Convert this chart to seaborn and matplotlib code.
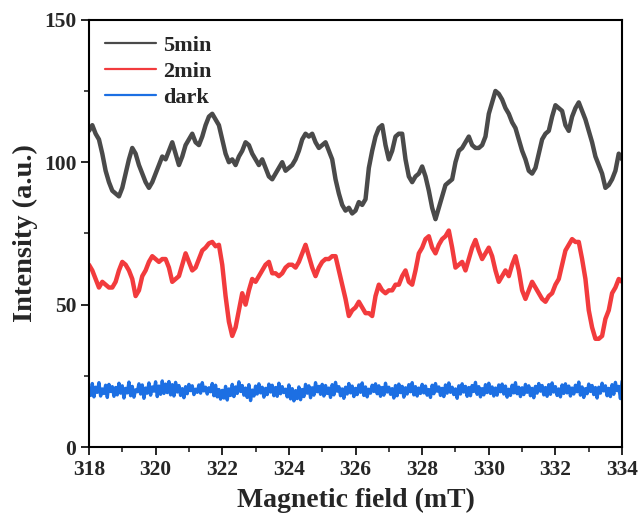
import numpy as np
import pandas as pd
import matplotlib
matplotlib.use("Agg")
import matplotlib.pyplot as plt
from matplotlib.ticker import MultipleLocator
import seaborn as sns

# EPR intensity traces, sampled every 0.1 mT from 318 to 334 mT
intensity_5min = [
    111, 113, 110, 108, 103, 97, 93, 90, 89, 88,
    91, 96, 101, 105, 103, 99, 96, 93, 91, 93,
    96, 99, 102, 101, 104, 107, 103, 99, 102, 106,
    108, 110, 107, 106, 109, 113, 116, 117, 115, 113,
    108, 103, 100, 101, 99, 102, 104, 107, 106, 103,
    101, 99, 101, 98, 95, 94, 96, 98, 100, 97,
    98, 99, 101, 104, 108, 110, 109, 110, 107, 105,
    106, 107, 104, 101, 94, 89, 85, 83, 84, 82,
    83, 86, 85, 87, 98, 104, 109, 112, 113, 106,
    101, 104, 109, 110, 110, 101, 95, 93, 95, 96,
    98.5, 95, 90, 84, 80, 84, 88, 92, 93, 94,
    100, 104, 105, 107, 109, 106, 105, 105, 106, 109,
    117, 121, 125, 124, 122, 119, 117, 114, 112, 108,
    104, 101, 97, 96, 98, 103, 108, 110, 111, 116,
    120, 119, 118, 113, 111, 116, 119, 121, 118, 115,
    111, 107, 102, 99, 96, 91, 92, 94, 97, 103,
    101,
]

intensity_2min = [
    64, 62, 59, 56, 58, 57, 56, 56, 58, 62,
    65, 64, 62, 59, 53, 55, 60, 62, 65, 67,
    66, 65, 66, 66, 63, 58, 59, 60, 64, 68,
    65, 62, 63, 66, 69, 70, 71.5, 72, 70.5, 71,
    64, 53, 44, 39, 42, 48, 54, 50, 55, 59,
    58, 60, 62, 64, 65, 61, 61, 60, 61, 63,
    64, 64, 63, 65, 68, 71, 67, 63, 60, 63,
    65, 66, 66, 67, 67, 62, 57, 52, 46, 48,
    49, 51, 49, 47, 47, 46, 53, 57, 55, 54,
    55, 55, 57, 57, 60, 62, 58, 57, 62, 68,
    70, 73, 74, 70, 68, 71, 73, 74, 76, 70,
    63, 64, 65, 62, 66, 70, 72.7, 69, 66, 68,
    70, 67, 62, 58, 60, 62, 60, 64, 67, 62,
    55, 52, 55, 58, 56, 54, 52, 51, 53, 54,
    57, 59, 64, 69, 71, 73, 72, 72, 66, 59,
    48, 42, 38, 38, 39, 45, 48, 54, 56, 59,
    58,
]

# dark reference, sampled every 0.05 mT
intensity_dark = [
    20.8, 18.1, 22.3, 17.6, 21.0, 19.2, 22.6, 17.9, 20.4, 18.8, 21.7, 17.4, 22.0, 19.5, 21.2, 17.8, 20.9, 18.3, 22.4, 18.9,
    21.5, 17.2, 20.6, 19.0, 22.8, 18.0, 21.3, 17.5, 20.1, 19.4, 22.2, 18.6, 21.8, 17.1, 20.7, 18.9, 22.5, 18.2, 21.1, 19.6,
    22.9, 17.7, 21.4, 18.5, 23.2, 18.8, 22.1, 19.1, 23.0, 18.3, 21.9, 17.9, 22.7, 19.3, 21.6, 18.1, 20.5, 17.3, 21.2, 18.7,
    22.0, 19.8, 21.5, 18.4, 20.3, 19.2, 21.8, 18.9, 22.6, 19.7, 21.0, 18.6, 20.8, 19.4, 22.3, 18.0, 21.7, 17.6, 20.2, 16.8,
    19.9, 17.2, 21.3, 16.5, 20.4, 18.1, 22.0, 17.7, 21.1, 18.8, 22.9, 19.5, 21.6, 18.2, 20.7, 17.4, 21.9, 16.3, 20.0, 17.9,
    21.4, 18.6, 22.2, 19.0, 21.0, 17.5, 20.6, 18.4, 22.1, 19.3, 21.7, 18.0, 20.9, 17.8, 22.4, 18.7, 21.2, 19.1, 20.3, 17.6,
    21.8, 16.9, 20.5, 16.2, 19.8, 17.0, 21.1, 16.6, 20.2, 17.7, 22.0, 18.9, 21.5, 17.3, 20.8, 18.2, 22.6, 19.4, 21.3, 18.5,
    22.0, 17.9, 21.6, 18.8, 20.7, 17.4, 21.9, 18.3, 22.7, 19.6, 21.2, 18.0, 20.4, 17.1, 21.0, 18.6, 22.3, 19.0, 21.4, 17.7,
    20.6, 18.4, 21.8, 19.2, 22.5, 18.1, 21.1, 17.6, 20.3, 18.9, 21.7, 19.5, 22.2, 18.7, 21.5, 17.8, 20.9, 18.2, 22.4, 19.3,
    21.0, 18.5, 20.5, 17.2, 21.6, 18.0, 22.1, 19.1, 21.3, 17.5, 20.8, 18.6, 21.9, 19.4, 22.6, 18.3, 21.2, 17.9, 20.7, 18.8,
    22.0, 19.0, 21.4, 18.2, 20.2, 17.4, 21.7, 18.7, 22.3, 19.6, 21.1, 18.1, 20.6, 17.7, 21.8, 18.9, 22.5, 19.2, 21.0, 18.4,
    20.4, 17.1, 21.5, 18.6, 22.2, 19.3, 21.3, 17.8, 20.9, 18.0, 21.6, 19.5, 22.7, 18.5, 21.2, 17.6, 20.5, 18.3, 21.9, 19.1,
    22.4, 18.8, 21.1, 17.9, 20.7, 18.2, 21.8, 19.4, 22.1, 18.6, 21.4, 17.5, 20.3, 18.1, 21.7, 19.0, 22.6, 18.7, 21.0, 17.7,
    20.8, 18.4, 22.0, 19.2, 21.5, 18.0, 20.6, 17.3, 21.3, 18.9, 22.3, 19.6, 21.6, 18.3, 20.9, 17.8, 21.9, 18.5, 22.5, 19.3,
    21.2, 18.1, 20.4, 17.6, 21.8, 18.8, 22.2, 19.0, 21.4, 17.9, 20.7, 18.6, 21.7, 19.4, 22.8, 18.2, 21.1, 17.4, 20.5, 18.7,
    22.1, 19.5, 21.6, 18.4, 20.9, 17.2, 21.0, 18.9, 22.4, 19.7, 21.5, 18.0, 20.6, 17.7, 21.9, 18.5, 22.7, 19.8, 21.3, 17.0,
    23.1,
]

field_min, field_max = 318, 334
series_labels = ["5min", "2min", "dark"]
series_colors = ["#4a4a4a", "#f23b3d", "#1c6fe3"]
series_widths = [3.2, 3.2, 2.4]
series_values = [intensity_5min, intensity_2min, intensity_dark]

sns.set_style("ticks")
plt.rcParams["font.family"] = ["Liberation Serif", "DejaVu Serif"]
plt.rcParams["font.weight"] = "bold"
plt.rcParams["axes.labelweight"] = "bold"

fig = plt.figure(figsize=(6.4, 5.21), dpi=100)
ax = fig.add_axes([0.139, 0.142, 0.833, 0.820])

for label, color, lw, values in zip(series_labels, series_colors, series_widths, series_values):
    df = pd.DataFrame({
        "field": np.linspace(field_min, field_max, len(values)),
        "intensity": values,
    })
    sns.lineplot(data=df, x="field", y="intensity", ax=ax, color=color,
                 label=label, linewidth=lw, estimator=None, sort=False)

ax.set_xlim(field_min, field_max)
ax.set_ylim(0, 150)
ax.xaxis.set_major_locator(MultipleLocator(2))
ax.xaxis.set_minor_locator(MultipleLocator(1))
ax.yaxis.set_major_locator(MultipleLocator(50))
ax.yaxis.set_minor_locator(MultipleLocator(25))

ax.set_xlabel("Magnetic field (mT)", fontsize=20, fontweight="bold", labelpad=6)
ax.set_ylabel("Intensity (a.u.)", fontsize=20.5, fontweight="bold", labelpad=4)

ax.tick_params(axis="both", which="major", direction="out", length=6, width=1.4,
               labelsize=15.5, pad=3)
ax.tick_params(axis="both", which="minor", direction="out", length=3.5, width=1.2)
for lab in ax.get_xticklabels() + ax.get_yticklabels():
    lab.set_fontweight("bold")

for spine in ax.spines.values():
    spine.set_visible(True)
    spine.set_linewidth(1.5)
    spine.set_color("black")

leg = ax.legend(loc="upper left", frameon=False, fontsize=16, handlelength=2.3,
                handletextpad=0.35, labelspacing=0.25, borderaxespad=0.35,
                borderpad=0.35)
for line in leg.get_lines():
    line.set_linewidth(1.6)
for txt in leg.get_texts():
    txt.set_fontweight("bold")

fig.savefig("out.png", dpi=100)
